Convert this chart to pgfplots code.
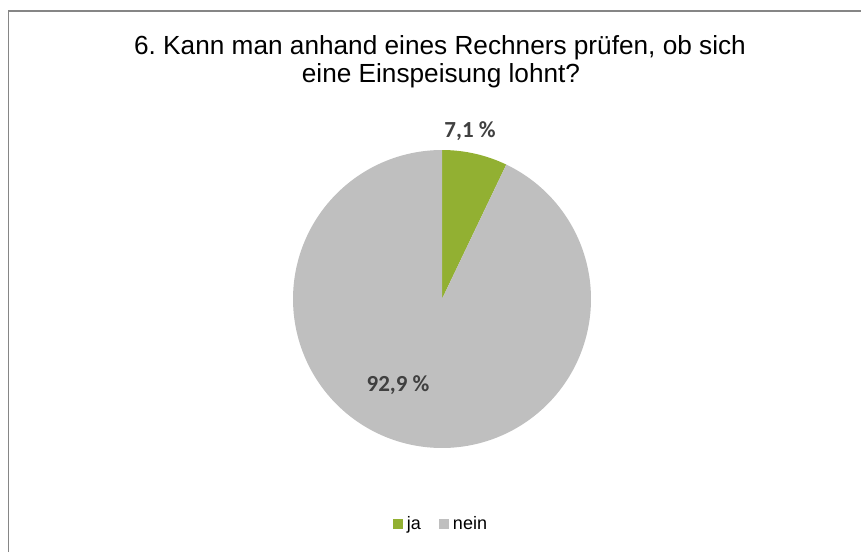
\documentclass[border=0pt]{standalone}
\usepackage{pgfplots}
\pgfplotsset{compat=1.18}
\usepackage{pgfplotstable}
\usepackage{fontspec}
\setmainfont{Liberation Sans}
\newfontfamily\calibri{Carlito}
\definecolor{jagreen}{RGB}{146,176,50}
\definecolor{neingray}{RGB}{191,191,191}
\definecolor{labelgray}{RGB}{64,64,64}
\definecolor{framegray}{RGB}{134,134,134}
\frenchspacing

\pgfplotstableread{
label value
ja 7.1
nein 92.9
}\piedata

\begin{document}
\begin{tikzpicture}[x=0.5pt,y=0.5pt]
\useasboundingbox (0,0) rectangle (861,552);
\draw[framegray, line width=0.9pt] (8.5,0) -- (8.5,541) -- (861,541);
\node[anchor=base, font=\fontsize{13.1}{15}\selectfont, inner sep=0pt] at (440,497) {6. Kann man anhand eines Rechners prüfen, ob sich};
\node[anchor=base, font=\fontsize{13.1}{15}\selectfont, inner sep=0pt] at (441,469) {eine Einspeisung lohnt?};
\pgfplotstablegetelem{0}{value}\of\piedata
\pgfmathsetmacro{\aone}{90-3.6*\pgfplotsretval}
\begin{axis}[
  at={(221pt,126.5pt)}, anchor=center,
  scale only axis, width=149pt, height=149pt,
  xmin=-1, xmax=1, ymin=-1, ymax=1,
  hide axis, clip=false,
  legend columns=2,
  legend image code/.code={\path[#1] (0pt,-2.5pt) rectangle (5pt,2.5pt);},
  legend style={at={(0.5,-0.255)}, anchor=center, draw=none, fill=none,
    font=\fontsize{9}{11}\selectfont,
    /tikz/every even column/.append style={column sep=7pt}},
]
\addplot[fill=jagreen, draw=none, domain=\aone:90, samples=40, variable=\t]
  ({cos(t)},{sin(t)}) -- (axis cs:0,0) -- cycle;
\addlegendentry{ja}
\addplot[fill=neingray, draw=none, domain=-270:\aone, samples=200, variable=\t]
  ({cos(t)},{sin(t)}) -- (axis cs:0,0) -- cycle;
\addlegendentry{nein}
\node[font=\calibri\bfseries\fontsize{11.5}{13}\selectfont, text=labelgray] at (axis cs:0.188,1.128) {7,1 \%};
\node[font=\calibri\bfseries\fontsize{11.5}{13}\selectfont, text=labelgray] at (axis cs:-0.295,-0.577) {92,9 \%};
\end{axis}
\end{tikzpicture}
\end{document}
